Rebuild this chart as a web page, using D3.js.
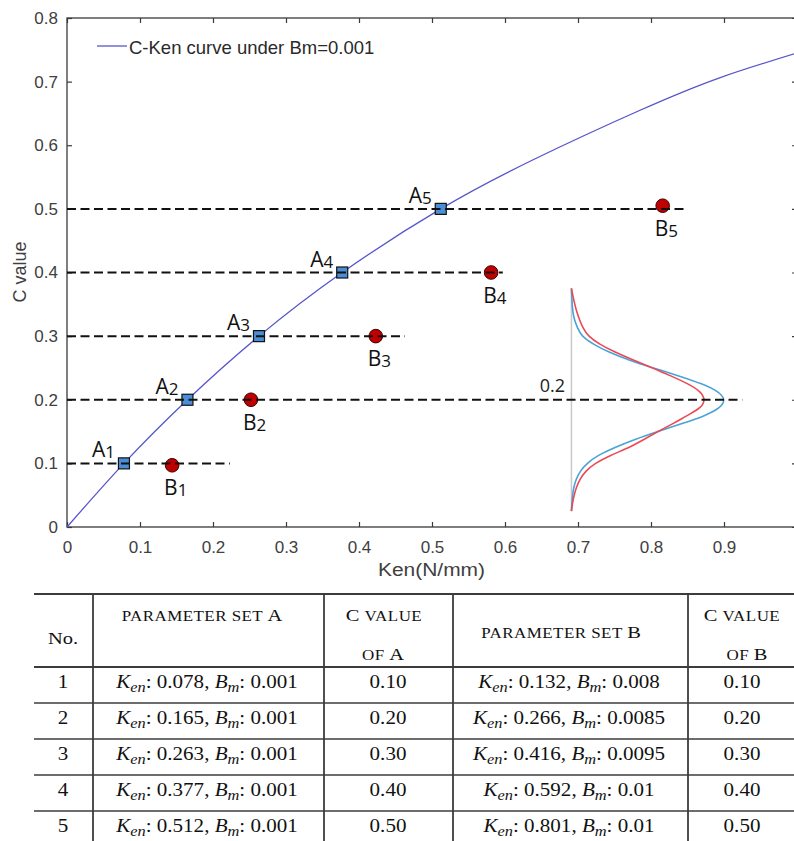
<!DOCTYPE html>
<html>
<head>
<meta charset="utf-8">
<script src="https://cdn.jsdelivr.net/npm/d3@7"></script>
<style>
  body { margin: 0; background: #fff; }
  svg { display: block; }
</style>
</head>
<body>
<svg id="chart" width="794" height="841"></svg>
<script>
// ---- data ----
const xTicks = [0, 0.1, 0.2, 0.3, 0.4, 0.5, 0.6, 0.7, 0.8, 0.9, 1];
const yTicks = [0, 0.1, 0.2, 0.3, 0.4, 0.5, 0.6, 0.7, 0.8];

// C-Ken curve under Bm=0.001
const curveKen = [0, 0.078, 0.165, 0.263, 0.377, 0.512, 0.64, 0.785, 0.894, 1.0];
const curveC = [0, 0.1, 0.2, 0.3, 0.4, 0.5, 0.578, 0.655, 0.706, 0.745];

// parameter set A (on the curve) and set B (as plotted)
const pointNo = [1, 2, 3, 4, 5];
const kenA = [0.078, 0.165, 0.263, 0.377, 0.512];
const cA = [0.1, 0.2, 0.3, 0.4, 0.5];
const kenBPlot = [0.144, 0.252, 0.423, 0.581, 0.816];
const cBPlot = [0.097, 0.2, 0.3, 0.4, 0.505];

// dashed guide lines: level and where each one stops
const dashLevels = [0.1, 0.2, 0.3, 0.4, 0.5];
const dashEnds = [0.223, 0.925, 0.463, 0.597, 0.849];

// inset distributions around C = 0.2 (relative density, peak of blue = 100)
const distBase = 0.691;
const distPeakKen = 0.902;
const distC = [0.375, 0.3625, 0.35, 0.3375, 0.325, 0.3125, 0.3, 0.2875, 0.275, 0.2625, 0.25, 0.2375, 0.225, 0.2125,
  0.2, 0.1875, 0.175, 0.1625, 0.15, 0.1375, 0.125, 0.1125, 0.1, 0.0875, 0.075, 0.0625, 0.05, 0.0375, 0.025];
const blueDens = [0, 0.2, 0.5, 0.9, 2, 4, 6.5, 14, 24, 37, 53, 70, 85, 96,
  100, 97, 87, 72, 56, 41, 28, 17, 10, 5.5, 3, 1.5, 0.7, 0.3, 0];
const redDens = [0, 1, 2.2, 3.5, 5.4, 7.5, 10.8, 18, 28.1, 40, 52.9, 64.5, 76, 84.3,
  86.8, 84.5, 75, 66, 56.2, 47, 37.8, 25, 15.1, 9, 5.4, 3.2, 1.7, 0.7, 0];

// table
const bmA = ["0.001", "0.001", "0.001", "0.001", "0.001"];
const kenB = [0.132, 0.266, 0.416, 0.592, 0.801];
const bmB = ["0.008", "0.0085", "0.0095", "0.01", "0.01"];
const cB = [0.1, 0.2, 0.3, 0.4, 0.5];

// ---- chart ----
const svg = d3.select("#chart");
svg.append("rect").attr("width", 794).attr("height", 841).attr("fill", "#fff");

const x = d3.scaleLinear().domain([0, 1]).range([67, 797]);
const y = d3.scaleLinear().domain([0, 0.8]).range([527, 18]);

const sansFont = "'Liberation Sans', Arial, sans-serif";
const labelFont = "'Open Sans', 'Noto Sans', sans-serif";
const serifFont = "'Liberation Serif', 'Times New Roman', serif";
const axisColor = "#3a3a3a";

// axes with inside ticks
const fmt = (d) => (d === 1 ? "" : d3.format("~g")(d));
const gx = svg.append("g").attr("transform", `translate(0,${y(0)})`)
  .call(d3.axisBottom(x).tickValues(xTicks).tickFormat(fmt).tickSizeInner(-5).tickSizeOuter(0).tickPadding(14));
const gy = svg.append("g").attr("transform", `translate(${x(0)},0)`)
  .call(d3.axisLeft(y).tickValues(yTicks).tickFormat(fmt).tickSizeInner(-5).tickSizeOuter(0).tickPadding(9));
const gt = svg.append("g").attr("transform", `translate(0,${y(0.8)})`)
  .call(d3.axisTop(x).tickValues(xTicks).tickFormat("").tickSizeInner(-5).tickSizeOuter(0));
const gr = svg.append("g").attr("transform", `translate(${x(1)},0)`)
  .call(d3.axisRight(y).tickValues(yTicks).tickFormat("").tickSizeInner(-5).tickSizeOuter(0));

[gx, gy, gt, gr].forEach((g) => {
  g.select(".domain").remove();
  g.selectAll(".tick line").attr("stroke", axisColor).attr("stroke-width", 1.2);
  g.selectAll(".tick text")
    .attr("fill", "#404040")
    .style("font-family", sansFont)
    .style("font-size", "17px");
});

// frame
svg.append("rect")
  .attr("x", x(0)).attr("y", y(0.8))
  .attr("width", x(1) - x(0)).attr("height", y(0) - y(0.8))
  .attr("fill", "none").attr("stroke", axisColor).attr("stroke-width", 1.3);

// axis titles
svg.append("text")
  .attr("x", 378).attr("y", 576)
  .attr("textLength", 107).attr("lengthAdjust", "spacingAndGlyphs")
  .attr("fill", "#404040")
  .style("font-family", sansFont).style("font-size", "18px")
  .text("Ken(N/mm)");

svg.append("text")
  .attr("transform", "translate(26,272) rotate(-90)")
  .attr("text-anchor", "middle")
  .attr("fill", "#404040")
  .style("font-family", sansFont).style("font-size", "18px")
  .text("C value");

// legend
svg.append("line")
  .attr("x1", 97).attr("x2", 127).attr("y1", 46).attr("y2", 46)
  .attr("stroke", "#5656cc").attr("stroke-width", 1.3);
svg.append("text")
  .attr("x", 129).attr("y", 54)
  .attr("fill", "#2a2a2a")
  .style("font-family", sansFont).style("font-size", "18.5px")
  .text("C-Ken curve under Bm=0.001");

// C-Ken curve
const curvePts = curveKen.map((k, i) => [k, curveC[i]]);
svg.append("path")
  .datum(curvePts)
  .attr("fill", "none")
  .attr("stroke", "#5656cc")
  .attr("stroke-width", 1.3)
  .attr("d", d3.line().x((d) => x(d[0])).y((d) => y(d[1])).curve(d3.curveNatural));

// inset distributions
const dens = d3.scaleLinear().domain([0, 100]).range([x(distBase), x(distPeakKen)]);
svg.append("line")
  .attr("x1", x(distBase)).attr("x2", x(distBase))
  .attr("y1", y(distC[0])).attr("y2", y(distC[distC.length - 1]))
  .attr("stroke", "#c8c8c8").attr("stroke-width", 1.5);

const distLine = d3.line().x((d) => dens(d[0])).y((d) => y(d[1])).curve(d3.curveBasis);
svg.append("path")
  .datum(blueDens.map((v, i) => [v, distC[i]]))
  .attr("fill", "none").attr("stroke", "#4aa3d8").attr("stroke-width", 1.6)
  .attr("d", distLine);
svg.append("path")
  .datum(redDens.map((v, i) => [v, distC[i]]))
  .attr("fill", "none").attr("stroke", "#ea4a55").attr("stroke-width", 1.6)
  .attr("d", distLine);

svg.append("text")
  .attr("x", 565).attr("y", 392)
  .attr("text-anchor", "end")
  .attr("fill", "#222")
  .style("font-family", labelFont).style("font-size", "18px")
  .text("0.2");

// markers
svg.selectAll(".ptB")
  .data(pointNo)
  .enter()
  .append("circle")
  .attr("class", "ptB")
  .attr("cx", (d, i) => x(kenBPlot[i]))
  .attr("cy", (d, i) => y(cBPlot[i]))
  .attr("r", 6.8)
  .attr("fill", "#c00000")
  .attr("stroke", "#3a0000")
  .attr("stroke-width", 1);

svg.selectAll(".ptA")
  .data(pointNo)
  .enter()
  .append("rect")
  .attr("class", "ptA")
  .attr("x", (d, i) => x(kenA[i]) - 5.5)
  .attr("y", (d, i) => y(cA[i]) - 5.5)
  .attr("width", 11)
  .attr("height", 11)
  .attr("fill", "#4a8fd6")
  .attr("stroke", "#111")
  .attr("stroke-width", 1.2);

// dashed guide lines (on top of the markers)
svg.selectAll(".guide")
  .data(dashLevels)
  .enter()
  .append("line")
  .attr("class", "guide")
  .attr("x1", x(0))
  .attr("x2", (d, i) => x(dashEnds[i]))
  .attr("y1", (d) => y(d))
  .attr("y2", (d) => y(d))
  .attr("stroke", "#111")
  .attr("stroke-width", 2)
  .attr("stroke-dasharray", "9,4.5");

// point labels
function pointLabel(letter, no, px, py) {
  const t = svg.append("text")
    .attr("x", px).attr("y", py)
    .attr("fill", "#111")
    .style("font-family", labelFont)
    .style("font-size", "21px");
  t.append("tspan").text(letter);
  t.append("tspan").attr("dy", 1).style("font-size", "17px").text(no);
}
pointNo.forEach((n, i) => {
  pointLabel("A", n, x(kenA[i]) - 32, y(cA[i]) - 6);
  pointLabel("B", n, x(kenBPlot[i]) - 8, y(cBPlot[i]) + 30);
});

// ---- table ----
const colEdges = [34, 93, 324, 453, 688, 800];
const colCenters = [63, 207, 388, 569, 742];
const rowEdges = [594, 667, 703, 739, 775, 811, 847];
const lineColor = "#3c3c3c";
const stretch = 1.17; // the table print is wider than plain Times

const table = svg.append("g");
table.selectAll(".hline")
  .data(rowEdges)
  .enter()
  .append("line")
  .attr("x1", colEdges[0]).attr("x2", colEdges[colEdges.length - 1])
  .attr("y1", (d) => d).attr("y2", (d) => d)
  .attr("stroke", lineColor)
  .attr("stroke-width", (d, i) => (i < 2 ? 2 : 1.6));
table.selectAll(".vline")
  .data(colEdges.slice(1, 5))
  .enter()
  .append("line")
  .attr("x1", (d) => d).attr("x2", (d) => d)
  .attr("y1", rowEdges[0]).attr("y2", rowEdges[rowEdges.length - 1])
  .attr("stroke", lineColor)
  .attr("stroke-width", 1.8);

function cellText(cx, by, size) {
  return table.append("text")
    .attr("transform", `translate(${cx},${by}) scale(${stretch},1)`)
    .attr("text-anchor", "middle")
    .attr("fill", "#111")
    .style("font-family", serifFont)
    .style("font-size", size + "px");
}

// small-caps header helper: [text, isSmall] parts
function headerText(cx, by, parts) {
  const t = cellText(cx, by, 17);
  parts.forEach((p) => {
    t.append("tspan")
      .style("font-size", p[1] ? "14.5px" : "17.5px")
      .style("letter-spacing", p[1] ? "0.4px" : "0px")
      .text(p[0]);
  });
}
headerText(colCenters[0], 644, [["No.", false]]);
headerText(202, 621, [["PARAMETER SET ", true], ["A", false]]);
headerText(384, 621, [["C ", false], ["VALUE", true]]);
headerText(383, 660, [["OF ", true], ["A", false]]);
headerText(561, 638, [["PARAMETER SET ", true], ["B", false]]);
headerText(742, 621, [["C ", false], ["VALUE", true]]);
headerText(747, 660, [["OF ", true], ["B", false]]);

const f3 = d3.format(".3f");
const f2 = d3.format(".2f");

function paramText(cx, by, ken, bm) {
  const t = cellText(cx, by, 18);
  t.append("tspan").style("font-style", "italic").text("K");
  t.append("tspan").attr("dy", 4).style("font-style", "italic").style("font-size", "14px").text("en");
  t.append("tspan").attr("dy", -4).text(": " + ken + ", ");
  t.append("tspan").style("font-style", "italic").text("B");
  t.append("tspan").attr("dy", 4).style("font-style", "italic").style("font-size", "14px").text("m");
  t.append("tspan").attr("dy", -4).text(": " + bm);
}

pointNo.forEach((n, i) => {
  const by = rowEdges[i + 1] + 20.5;
  cellText(colCenters[0], by, 18).text(String(n));
  cellText(colCenters[2], by, 18).text(f2(cA[i]));
  cellText(colCenters[4], by, 18).text(f2(cB[i]));
  paramText(colCenters[1], by, f3(kenA[i]), bmA[i]);
  paramText(colCenters[3], by, f3(kenB[i]), bmB[i]);
});
</script>
</body>
</html>
